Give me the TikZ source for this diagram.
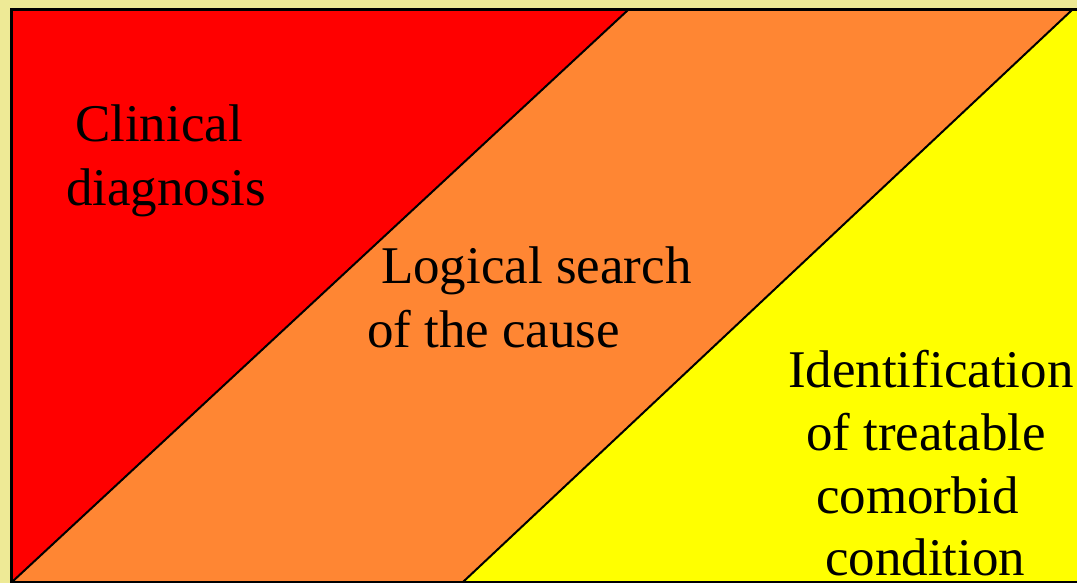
\documentclass[tikz,border=0pt]{standalone}
\usepackage{fontspec}
\setmainfont{Liberation Serif}
\definecolor{bgbeige}{RGB}{238,234,150}
\definecolor{pptred}{RGB}{255,0,0}
\definecolor{pptorange}{RGB}{255,134,51}
\definecolor{pptyellow}{RGB}{255,255,0}
\tikzset{
  lbl/.style={anchor=base west, inner sep=0pt, outer sep=0pt, text=black,
              font=\fontsize{53}{63}\selectfont},
  divider/.style={draw=black, line width=2pt, line cap=round},
}
\begin{document}
\begin{tikzpicture}[x=1pt,y=-1pt]
\useasboundingbox (0,0) rectangle (1077,583);
\clip (0,0) rectangle (1077,583);
\fill[bgbeige] (0,0) rectangle (1077,583);
% corner points of the bands
\coordinate (tl) at (11,10);
\coordinate (tr) at (1085,10);
\coordinate (bl) at (11,582);
\coordinate (br) at (1085,582);
\coordinate (a1) at (628,10);
\coordinate (a2) at (12,582);
\coordinate (b1) at (1072,10);
\coordinate (b2) at (463,582);
% bands
\fill[pptred] (tl) -- (a1) -- (a2) -- (bl) -- cycle;
\fill[pptorange] (a1) -- (b1) -- (b2) -- (a2) -- cycle;
\fill[pptyellow] (b1) -- (tr) -- (br) -- (b2) -- cycle;
% dividers
\draw[divider] (a1) -- (a2);
\draw[divider] (b1) -- (b2);
% frame
\draw[black, line width=3pt] (tl) rectangle (br);
% labels
\node[lbl] (c1) at (75,142) {Clinical};
\node[lbl] (c2) at (66,205) {diagnosis};
\node[lbl] (l1) at (381,283) {Logical search};
\node[lbl] (l2) at (367,347) {of the cause};
\node[lbl] (i1) at (788,387) {Identification};
\node[lbl] (i2) at (806,450) {of treatable};
\node[lbl] (i3) at (816,513) {comorbid};
\node[lbl] (i4) at (825,575) {condition};
\end{tikzpicture}
\end{document}
